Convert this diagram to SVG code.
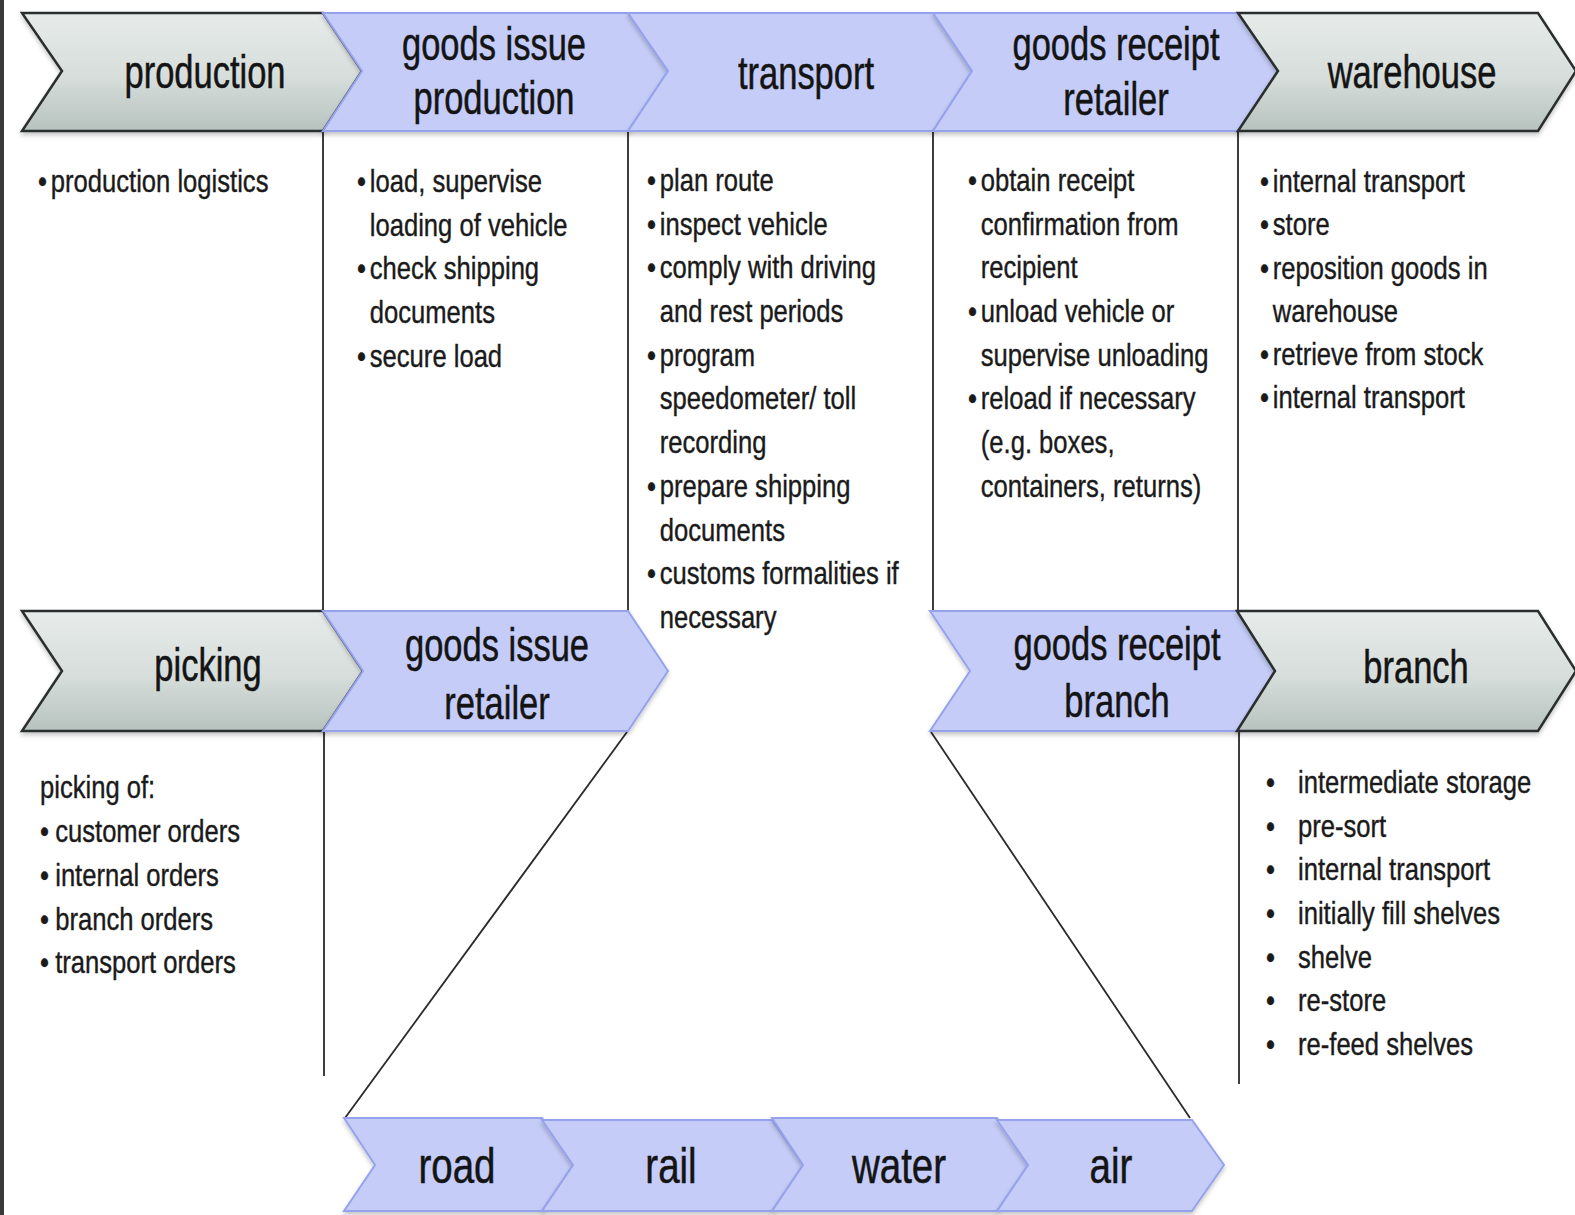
<svg xmlns="http://www.w3.org/2000/svg" width="1575" height="1215" viewBox="0 0 1575 1215">
  <style>
    .gray { fill: url(#grayFill); stroke: #2b2f2e; stroke-width: 2.5; stroke-linejoin: miter; filter: url(#shadow); }
    .blue { fill: #c4ccf7; stroke: #96a3ec; stroke-width: 2; stroke-linejoin: miter; filter: url(#shadow); }
    .h { font-family: "Liberation Sans", Arial, sans-serif; font-size: 46px; fill: #141414; stroke: #141414; stroke-width: 0.5; text-anchor: middle; }
    .m { font-family: "Liberation Sans", Arial, sans-serif; font-size: 50px; fill: #141414; stroke: #141414; stroke-width: 0.5; text-anchor: middle; }
    .b { font-family: "Liberation Sans", Arial, sans-serif; font-size: 32px; fill: #1a1a1a; stroke: #1a1a1a; stroke-width: 0.4; }
    .sep { stroke: #3d3d3d; stroke-width: 2; fill: none; }
    .diag { stroke: #2a2a2a; stroke-width: 1.8; fill: none; }
  </style>
  <defs>
    <linearGradient id="grayFill" x1="0" y1="0" x2="0" y2="1">
      <stop offset="0" stop-color="#e7ecea"/>
      <stop offset="0.55" stop-color="#d6ddda"/>
      <stop offset="1" stop-color="#b7c2be"/>
    </linearGradient>
    <filter id="shadow" x="-5%" y="-10%" width="110%" height="130%">
      <feDropShadow dx="0" dy="3" stdDeviation="2" flood-color="#000" flood-opacity="0.22"/>
    </filter>
  </defs>

  <rect x="0" y="0" width="1575" height="1215" fill="#ffffff"/>
  <rect x="0" y="0" width="4" height="1215" fill="#3a3a3a"/>

  <!-- column separators and the links down to the transport modes -->
  <g id="connectors">
    <line class="sep" x1="323" y1="132" x2="323" y2="611"/>
    <line class="sep" x1="628" y1="132" x2="628" y2="611"/>
    <line class="sep" x1="933" y1="132" x2="933" y2="611"/>
    <line class="sep" x1="1238" y1="132" x2="1238" y2="611"/>
    <line class="sep" x1="324" y1="732" x2="324" y2="1076"/>
    <line class="sep" x1="1239" y1="732" x2="1239" y2="1084"/>
    <line class="diag" x1="627" y1="732" x2="345" y2="1118"/>
    <line class="diag" x1="931" y1="732" x2="1190" y2="1118"/>
  </g>

  <!-- top process row -->
  <g id="production">
    <path class="gray" d="M22,13 L323,13 L362,71 L323,131 L22,131 L62,71 Z"/>
    <text class="h" transform="translate(205,88) scale(0.75,1)">production</text>
  </g>
  <g id="goods-issue-production">
    <path class="blue" d="M323,13 L628,13 L668,71 L628,131 L323,131 L362,71 Z"/>
    <text class="h" transform="translate(494,60) scale(0.75,1)">goods issue</text>
    <text class="h" transform="translate(494,114) scale(0.75,1)">production</text>
  </g>
  <g id="transport">
    <path class="blue" d="M628,13 L933,13 L972,71 L933,131 L628,131 L668,71 Z"/>
    <text class="h" transform="translate(806,89) scale(0.75,1)">transport</text>
  </g>
  <g id="goods-receipt-retailer">
    <path class="blue" d="M933,13 L1238,13 L1278,71 L1238,131 L933,131 L972,71 Z"/>
    <text class="h" transform="translate(1116,60) scale(0.75,1)">goods receipt</text>
    <text class="h" transform="translate(1116,115) scale(0.75,1)">retailer</text>
  </g>
  <g id="warehouse">
    <path class="gray" d="M1238,13 L1538,13 L1576,71 L1538,131 L1238,131 L1278,71 Z"/>
    <text class="h" transform="translate(1412,88) scale(0.75,1)">warehouse</text>
  </g>

  <!-- second process row -->
  <g id="picking">
    <path class="gray" d="M22,611 L323,611 L363,671 L323,731 L22,731 L62,671 Z"/>
    <text class="h" transform="translate(208,681) scale(0.75,1)">picking</text>
  </g>
  <g id="goods-issue-retailer">
    <path class="blue" d="M323,611 L628,611 L668,671 L628,731 L323,731 L363,671 Z"/>
    <text class="h" transform="translate(497,661) scale(0.75,1)">goods issue</text>
    <text class="h" transform="translate(497,719) scale(0.75,1)">retailer</text>
  </g>
  <g id="goods-receipt-branch">
    <path class="blue" d="M930,611 L1237,611 L1275,671 L1237,731 L930,731 L970,671 Z"/>
    <text class="h" transform="translate(1117,660) scale(0.75,1)">goods receipt</text>
    <text class="h" transform="translate(1117,717) scale(0.75,1)">branch</text>
  </g>
  <g id="branch">
    <path class="gray" d="M1237,611 L1538,611 L1576,671 L1538,731 L1237,731 L1275,671 Z"/>
    <text class="h" transform="translate(1416,683) scale(0.75,1)">branch</text>
  </g>

  <!-- transport modes -->
  <g id="road">
    <path class="blue" d="M344,1118 L542,1118 L573,1165 L542,1211 L344,1211 L375,1165 Z"/>
    <text class="m" transform="translate(457,1183) scale(0.77,1)">road</text>
  </g>
  <g id="rail">
    <path class="blue" d="M542,1120 L772,1120 L803,1165 L772,1211 L542,1211 L573,1165 Z"/>
    <text class="m" transform="translate(671,1183) scale(0.77,1)">rail</text>
  </g>
  <g id="water">
    <path class="blue" d="M772,1118 L997,1118 L1028,1165 L997,1211 L772,1211 L803,1165 Z"/>
    <text class="m" transform="translate(899,1183) scale(0.77,1)">water</text>
  </g>
  <g id="air">
    <path class="blue" d="M997,1120 L1192,1120 L1224,1165 L1192,1211 L997,1211 L1028,1165 Z"/>
    <text class="m" transform="translate(1111,1183) scale(0.77,1)">air</text>
  </g>

  <!-- task lists -->
  <g id="production-tasks">
    <text class="b" transform="translate(38,192) scale(0.8,1)"><tspan x="0" y="0">•</tspan><tspan x="16" y="0">production logistics</tspan></text>
  </g>
  <g id="goods-issue-production-tasks">
    <text class="b" transform="translate(357,192) scale(0.8,1)">
      <tspan x="0" y="0">•</tspan><tspan x="16" y="0">load, supervise</tspan>
      <tspan x="16" y="43.7">loading of vehicle</tspan>
      <tspan x="0" y="87.4">•</tspan><tspan x="16" y="87.4">check shipping</tspan>
      <tspan x="16" y="131.1">documents</tspan>
      <tspan x="0" y="174.8">•</tspan><tspan x="16" y="174.8">secure load</tspan>
    </text>
  </g>
  <g id="transport-tasks">
    <text class="b" transform="translate(647,191) scale(0.8,1)">
      <tspan x="0" y="0">•</tspan><tspan x="16" y="0">plan route</tspan>
      <tspan x="0" y="43.7">•</tspan><tspan x="16" y="43.7">inspect vehicle</tspan>
      <tspan x="0" y="87.4">•</tspan><tspan x="16" y="87.4">comply with driving</tspan>
      <tspan x="16" y="131.1">and rest periods</tspan>
      <tspan x="0" y="174.8">•</tspan><tspan x="16" y="174.8">program</tspan>
      <tspan x="16" y="218.5">speedometer/ toll</tspan>
      <tspan x="16" y="262.2">recording</tspan>
      <tspan x="0" y="305.9">•</tspan><tspan x="16" y="305.9">prepare shipping</tspan>
      <tspan x="16" y="349.6">documents</tspan>
      <tspan x="0" y="393.3">•</tspan><tspan x="16" y="393.3">customs formalities if</tspan>
      <tspan x="16" y="437">necessary</tspan>
    </text>
  </g>
  <g id="goods-receipt-retailer-tasks">
    <text class="b" transform="translate(968,191) scale(0.8,1)">
      <tspan x="0" y="0">•</tspan><tspan x="16" y="0">obtain receipt</tspan>
      <tspan x="16" y="43.7">confirmation from</tspan>
      <tspan x="16" y="87.4">recipient</tspan>
      <tspan x="0" y="131.1">•</tspan><tspan x="16" y="131.1">unload vehicle or</tspan>
      <tspan x="16" y="174.8">supervise unloading</tspan>
      <tspan x="0" y="218.5">•</tspan><tspan x="16" y="218.5">reload if necessary</tspan>
      <tspan x="16" y="262.2">(e.g. boxes,</tspan>
      <tspan x="16" y="305.9">containers, returns)</tspan>
    </text>
  </g>
  <g id="warehouse-tasks">
    <text class="b" transform="translate(1260,192) scale(0.8,1)">
      <tspan x="0" y="0">•</tspan><tspan x="16" y="0">internal transport</tspan>
      <tspan x="0" y="43.3">•</tspan><tspan x="16" y="43.3">store</tspan>
      <tspan x="0" y="86.6">•</tspan><tspan x="16" y="86.6">reposition goods in</tspan>
      <tspan x="16" y="129.9">warehouse</tspan>
      <tspan x="0" y="173.2">•</tspan><tspan x="16" y="173.2">retrieve from stock</tspan>
      <tspan x="0" y="216.5">•</tspan><tspan x="16" y="216.5">internal transport</tspan>
    </text>
  </g>
  <g id="picking-tasks">
    <text class="b" transform="translate(40,798) scale(0.8,1)">
      <tspan x="0" y="0">picking of:</tspan>
      <tspan x="0" y="44">•</tspan><tspan x="19" y="44">customer orders</tspan>
      <tspan x="0" y="88">•</tspan><tspan x="19" y="88">internal orders</tspan>
      <tspan x="0" y="132">•</tspan><tspan x="19" y="132">branch orders</tspan>
      <tspan x="0" y="175">•</tspan><tspan x="19" y="175">transport orders</tspan>
    </text>
  </g>
  <g id="branch-tasks">
    <text class="b" transform="translate(1266,793) scale(0.8,1)">
      <tspan x="0" y="0">•</tspan><tspan x="40" y="0">intermediate storage</tspan>
      <tspan x="0" y="43.7">•</tspan><tspan x="40" y="43.7">pre-sort</tspan>
      <tspan x="0" y="87.4">•</tspan><tspan x="40" y="87.4">internal transport</tspan>
      <tspan x="0" y="131.1">•</tspan><tspan x="40" y="131.1">initially fill shelves</tspan>
      <tspan x="0" y="174.8">•</tspan><tspan x="40" y="174.8">shelve</tspan>
      <tspan x="0" y="218.5">•</tspan><tspan x="40" y="218.5">re-store</tspan>
      <tspan x="0" y="262.2">•</tspan><tspan x="40" y="262.2">re-feed shelves</tspan>
    </text>
  </g>
</svg>
